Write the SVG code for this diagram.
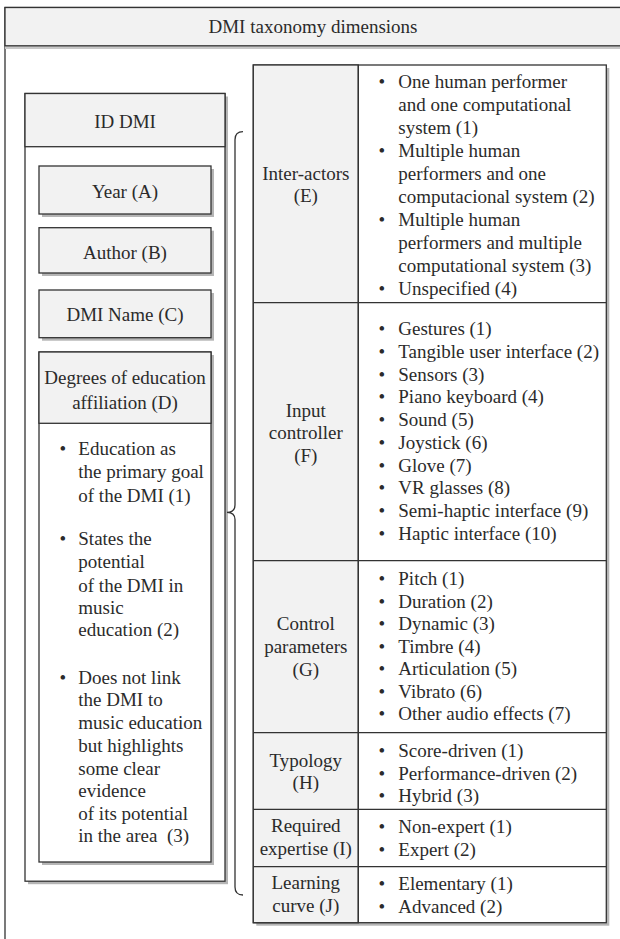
<svg xmlns="http://www.w3.org/2000/svg" width="620" height="939" viewBox="0 0 620 939">
<style>
text{font-family:"Liberation Serif","Times New Roman",serif;font-size:19px;fill:#2b2b2b}
.c{text-anchor:middle}
.box{stroke:#333;stroke-width:1.3}
.g{fill:#f2f2f2}
.w{fill:#fff}
.sh{fill:#b5b5b5;stroke:none}
.ln{fill:none;stroke:#333;stroke-width:1.3}
</style>
<rect width="620" height="939" fill="#fff"/>
<g id="frame">
<rect x="5" y="7.5" width="640" height="960" class="box w"/>
<rect x="5" y="46" width="640" height="3" fill="#c8c8c8"/>
<rect x="5" y="7.5" width="640" height="38.3" class="box g"/>
<text x="313" y="33" class="c">DMI taxonomy dimensions</text>
</g>
<g id="id-dmi">
<rect x="28" y="96.5" width="200" height="787.7" class="sh"/>
<rect x="25" y="93.5" width="200" height="787.7" class="box w"/>
<rect x="25" y="93.5" width="200" height="53.2" class="box g"/>
<text x="125" y="127.5" class="c">ID DMI</text>
</g>
<g id="year">
<rect x="42" y="169" width="172" height="48" class="sh"/>
<rect x="39" y="166" width="172" height="48" class="box g"/>
<text x="125" y="197.5" class="c">Year (A)</text>
</g>
<g id="author">
<rect x="42" y="230.7" width="172" height="45.3" class="sh"/>
<rect x="39" y="227.7" width="172" height="45.3" class="box g"/>
<text x="125" y="258.5" class="c">Author (B)</text>
</g>
<g id="dmi-name">
<rect x="42" y="293" width="172" height="47.7" class="sh"/>
<rect x="39" y="290" width="172" height="47.7" class="box g"/>
<text x="125" y="321" class="c">DMI Name (C)</text>
</g>
<g id="degrees">
<rect x="42" y="355" width="172" height="510" class="sh"/>
<rect x="39" y="352" width="172" height="510" class="box w"/>
<rect x="39" y="352" width="172" height="71.3" class="box g"/>
<text x="125" y="383.5" class="c">Degrees of education</text>
<text x="125" y="408.5" class="c">affiliation (D)</text>
<text x="59.4" y="455">•</text>
<text x="78.3" y="455">Education as</text>
<text x="78.3" y="478">the primary goal</text>
<text x="78.3" y="501.5">of the DMI (1)</text>
<text x="59.4" y="545">•</text>
<text x="78.3" y="545">States the</text>
<text x="78.3" y="568">potential</text>
<text x="78.3" y="591.5">of the DMI in</text>
<text x="78.3" y="613.5">music</text>
<text x="78.3" y="635.5">education (2)</text>
<text x="59.4" y="683.5">•</text>
<text x="78.3" y="683.5">Does not link</text>
<text x="78.3" y="706">the DMI to</text>
<text x="78.3" y="728.5">music education</text>
<text x="78.3" y="751.5">but highlights</text>
<text x="78.3" y="774.5">some clear</text>
<text x="78.3" y="797">evidence</text>
<text x="78.3" y="820">of its potential</text>
<text x="78.3" y="842" style="white-space:pre" xml:space="preserve">in the area  (3)</text>
</g>
<g id="connectors">
<path class="ln" d="M243,131.7 Q235,131.7 235,139.7 L235,505 Q235,512.3 227,512.3 Q235,512.3 235,519.6 L235,887 Q235,895 243,895"/>
</g>
<g id="table">
<rect x="256.3" y="68" width="353" height="857.7" class="sh"/>
<rect x="253.3" y="65" width="353" height="857.7" class="box w"/>
<rect x="253.3" y="65" width="105" height="857.7" class="box g"/>
<line x1="358.3" y1="65" x2="358.3" y2="922.7" class="ln"/>
<line x1="253.3" y1="302.7" x2="606.3" y2="302.7" class="ln"/>
<line x1="253.3" y1="560.7" x2="606.3" y2="560.7" class="ln"/>
<line x1="253.3" y1="732.7" x2="606.3" y2="732.7" class="ln"/>
<line x1="253.3" y1="809.3" x2="606.3" y2="809.3" class="ln"/>
<line x1="253.3" y1="866.7" x2="606.3" y2="866.7" class="ln"/>
</g>
<g id="row-e">
<text x="305.8" y="180" class="c">Inter-actors</text>
<text x="305.8" y="202" class="c">(E)</text>
<text x="378.4" y="88">•</text>
<text x="398.3" y="88">One human performer</text>
<text x="398.3" y="111">and one computational</text>
<text x="398.3" y="134">system (1)</text>
<text x="378.4" y="157">•</text>
<text x="398.3" y="157">Multiple human</text>
<text x="398.3" y="180">performers and one</text>
<text x="398.3" y="203">computacional system (2)</text>
<text x="378.4" y="226">•</text>
<text x="398.3" y="226">Multiple human</text>
<text x="398.3" y="249">performers and multiple</text>
<text x="398.3" y="272">computational system (3)</text>
<text x="378.4" y="295">•</text>
<text x="398.3" y="295">Unspecified (4)</text>
</g>
<g id="row-f">
<text x="305.8" y="416.7" class="c">Input</text>
<text x="305.8" y="439" class="c">controller</text>
<text x="305.8" y="461.7" class="c">(F)</text>
<text x="378.4" y="335">•</text><text x="398.3" y="335">Gestures (1)</text>
<text x="378.4" y="357.8">•</text><text x="398.3" y="357.8">Tangible user interface (2)</text>
<text x="378.4" y="380.5">•</text><text x="398.3" y="380.5">Sensors (3)</text>
<text x="378.4" y="403.3">•</text><text x="398.3" y="403.3">Piano keyboard (4)</text>
<text x="378.4" y="426">•</text><text x="398.3" y="426">Sound (5)</text>
<text x="378.4" y="448.8">•</text><text x="398.3" y="448.8">Joystick (6)</text>
<text x="378.4" y="471.5">•</text><text x="398.3" y="471.5">Glove (7)</text>
<text x="378.4" y="494.3">•</text><text x="398.3" y="494.3">VR glasses (8)</text>
<text x="378.4" y="517">•</text><text x="398.3" y="517">Semi-haptic interface (9)</text>
<text x="378.4" y="539.8">•</text><text x="398.3" y="539.8">Haptic interface (10)</text>
</g>
<g id="row-g">
<text x="305.8" y="630" class="c">Control</text>
<text x="305.8" y="653.3" class="c">parameters</text>
<text x="305.8" y="676" class="c">(G)</text>
<text x="378.4" y="585">•</text><text x="398.3" y="585">Pitch (1)</text>
<text x="378.4" y="607.5">•</text><text x="398.3" y="607.5">Duration (2)</text>
<text x="378.4" y="630">•</text><text x="398.3" y="630">Dynamic (3)</text>
<text x="378.4" y="652.5">•</text><text x="398.3" y="652.5">Timbre (4)</text>
<text x="378.4" y="675">•</text><text x="398.3" y="675">Articulation (5)</text>
<text x="378.4" y="697.5">•</text><text x="398.3" y="697.5">Vibrato (6)</text>
<text x="378.4" y="720">•</text><text x="398.3" y="720">Other audio effects (7)</text>
</g>
<g id="row-h">
<text x="305.8" y="766.7" class="c">Typology</text>
<text x="305.8" y="788.5" class="c">(H)</text>
<text x="378.4" y="757">•</text><text x="398.3" y="757">Score-driven (1)</text>
<text x="378.4" y="779.7">•</text><text x="398.3" y="779.7">Performance-driven (2)</text>
<text x="378.4" y="802.3">•</text><text x="398.3" y="802.3">Hybrid (3)</text>
</g>
<g id="row-i">
<text x="305.8" y="831.7" class="c">Required</text>
<text x="305.8" y="855" class="c">expertise (I)</text>
<text x="378.4" y="833">•</text><text x="398.3" y="833">Non-expert (1)</text>
<text x="378.4" y="855.5">•</text><text x="398.3" y="855.5">Expert (2)</text>
</g>
<g id="row-j">
<text x="305.8" y="888.5" class="c">Learning</text>
<text x="305.8" y="912.3" class="c">curve (J)</text>
<text x="378.4" y="889.5">•</text><text x="398.3" y="889.5">Elementary (1)</text>
<text x="378.4" y="912.5">•</text><text x="398.3" y="912.5">Advanced (2)</text>
</g>
</svg>
